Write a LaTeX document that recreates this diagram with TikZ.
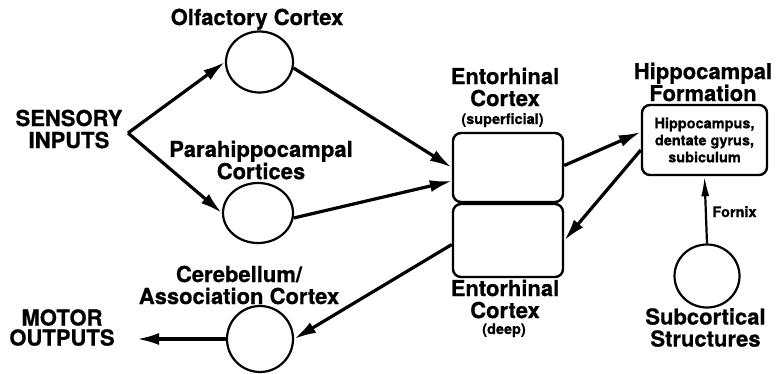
\documentclass[tikz,border=0pt]{standalone}
\usepackage{fontspec}
\setmainfont{TeX Gyre Heros}[BoldFeatures={FakeBold=0.6}]
\usetikzlibrary{arrows.meta,shapes.geometric,calc}

\tikzset{
  biglabel/.style={font=\bfseries\fontsize{22}{22}\selectfont, align=center, inner sep=0},
  smalllabel/.style={font=\bfseries\fontsize{14.5}{17}\selectfont, align=center, inner sep=0},
  region/.style={ellipse, draw, line width=2.2, inner sep=0},
  ecbox/.style={rectangle, draw, line width=2.4, rounded corners=8, inner sep=0,
                minimum width=110},
  conn/.style={line width=3.2, -{Latex[length=22,width=12]}},
  thinconn/.style={line width=2.2, -{Latex[length=20,width=8]}}
}

\begin{document}
\begin{tikzpicture}[x=1pt,y=-1pt]
  \useasboundingbox[fill=white] (0,0) rectangle (778,373);

  % cortical and subcortical regions
  \node[region, minimum width=67, minimum height=61] (olf) at (259.5,62) {};
  \node[region, minimum width=70, minimum height=60] (para) at (258,213) {};
  \node[region, minimum width=66, minimum height=66] (cereb) at (260,339) {};
  \node[region, minimum width=65, minimum height=63] (sub) at (707,276) {};

  % entorhinal cortex layers and hippocampal formation
  \node[ecbox, minimum height=69] (ecs) at (508,167.5) {};
  \node[ecbox, minimum height=73] (ecd) at (508,240.5) {};
  \node[ecbox, minimum width=125, minimum height=70, smalllabel] (hf) at (704.5,140)
       {Hippocampus,\\dentate gyrus,\\subiculum};

  % labels
  \node[biglabel] (sensory) at (69,129) {SENSORY\\INPUTS};
  \node[biglabel, anchor=base] (olflbl) at (257,25) {Olfactory Cortex};
  \node[biglabel, font=\bfseries\fontsize{22}{17}\selectfont] (paralbl) at (261,160) {Parahippocampal\\Cortices};
  \node[biglabel] (eclbl) at (505,87) {Entorhinal\\Cortex};
  \node[smalllabel, anchor=base] (supf) at (502.5,124) {(superficial)};
  \node[biglabel] (edlbl) at (505,299) {Entorhinal\\Cortex};
  \node[smalllabel, anchor=base] (deep) at (504,334) {(deep)};
  \node[biglabel] (hflbl) at (703,82) {Hippocampal\\Formation};
  \node[biglabel] (sublbl) at (705.5,327.5) {Subcortical\\Structures};
  \node[biglabel] (cereblbl) at (239,285) {Cerebellum/\\Association Cortex};
  \node[biglabel, font=\bfseries\fontsize{22}{20}\selectfont] (motor) at (62,327.5) {MOTOR\\OUTPUTS};
  \node[smalllabel, anchor=base] (fornix) at (734.5,217) {Fornix};

  % free ends of the input and output pathways
  \coordinate (apex) at (128,133);
  \coordinate (mout) at (137,339);

  % pathways
  \draw[conn] (apex) -- (olf.west);
  \draw[conn] (apex) -- (para.west);
  \draw[conn] (olf.-10) -- (ecs.west);
  \draw[conn] (para.-8) -- ($(ecs.west)+(0,13.5)$);
  \draw[conn] ($(ecs.east)+(0,-2)$) -- ($(hf.west)+(0,-8)$);
  \draw[conn] ($(hf.west)+(0,10)$) -- (ecd.east);
  \draw[conn] ($(ecd.west)+(0,4)$) -- (cereb.east);
  \draw[conn] (cereb.west) -- (mout);
  \draw[thinconn] (sub.north) -- (hf.south);
\end{tikzpicture}
\end{document}
